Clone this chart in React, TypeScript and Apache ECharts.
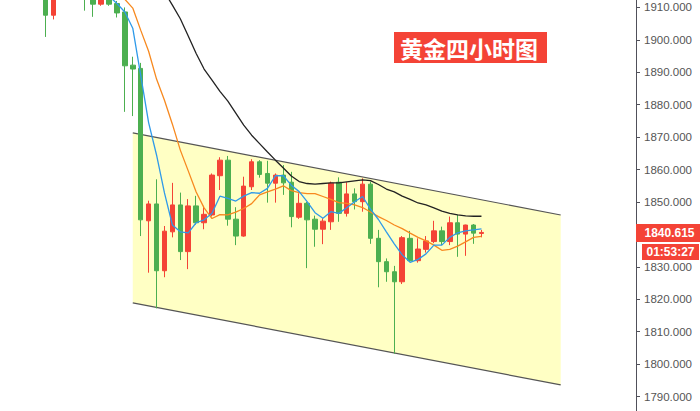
import React, { useEffect, useRef } from "react";
import * as echarts from "echarts";

// 80 category slots on the x axis (the candles occupy slots 5..60, the rest is empty space)
const categories: string[] = [
  "1","2","3","4","5","6","7","8","9","10","11","12","13","14","15","16","17","18","19","20",
  "21","22","23","24","25","26","27","28","29","30","31","32","33","34","35","36","37","38","39","40",
  "41","42","43","44","45","46","47","48","49","50","51","52","53","54","55","56","57","58","59","60",
  "61","62","63","64","65","66","67","68","69","70","71","72","73","74","75","76","77","78","79","80",
];
const firstCandle = 5;

// OHLC (4-hour gold candles)
const opens = [
  1916, 1907.6, 1916, 1919, 1917, 1918, 1914, 1911.0, 1913.5, 1911.2,
  1908.6, 1892.2, 1891.2, 1844.2, 1849.4, 1828.8, 1840.8, 1849.1, 1834.7, 1848.8,
  1843.6, 1846.0, 1858.1, 1862.9, 1844.7, 1839.5, 1854.7, 1862.4, 1858.8, 1855.8,
  1858.3, 1856.1, 1845.3, 1849.6, 1844.7, 1841.6, 1843.9, 1856.1, 1846.5, 1852.5,
  1850.1, 1855.5, 1838.8, 1831.6, 1828.5, 1825.4, 1838.8, 1831.9, 1835.4, 1837.8,
  1841.1, 1837.8, 1843.6, 1840.1, 1842.9, 1840.3,
];
const closes = [
  1907.6, 1915, 1919, 1917, 1915, 1914, 1911.0, 1913.5, 1911.0, 1908.3,
  1892.0, 1891.0, 1844.5, 1849.4, 1828.8, 1841.0, 1849.1, 1834.7, 1848.8, 1843.6,
  1846.2, 1858.3, 1862.9, 1844.7, 1839.5, 1854.9, 1862.4, 1858.5, 1855.8, 1858.3,
  1855.9, 1845.5, 1849.6, 1844.5, 1841.6, 1844.1, 1855.8, 1846.5, 1852.5, 1850.1,
  1855.5, 1838.8, 1831.6, 1828.5, 1825.4, 1839.0, 1831.9, 1835.5, 1838.0, 1841.1,
  1837.8, 1843.6, 1840.1, 1842.9, 1840.4, 1840.615,
];
const lows = [
  1900.9, 1906.3, 1914, 1914, 1913, 1909, 1907.1, 1910.5, 1910.5, 1906.9,
  1877.8, 1876.5, 1839.5, 1828.2, 1817.2, 1826.8, 1839.1, 1832.1, 1829.3, 1843.0,
  1841.6, 1845.5, 1853.7, 1842.7, 1836.7, 1839.3, 1853.7, 1857.5, 1849.8, 1849.8,
  1852.2, 1842.2, 1844.8, 1829.6, 1836.2, 1837.0, 1841.4, 1843.9, 1845.5, 1847.7,
  1847.0, 1837.1, 1823.7, 1825.4, 1803.2, 1824.7, 1831.5, 1831.3, 1834.4, 1837.3,
  1836.7, 1836.7, 1833.1, 1833.4, 1837.1, 1839.1,
];
const highs = [
  1918, 1917, 1921, 1922, 1919, 1919, 1915, 1914.5, 1914, 1912.0,
  1910.0, 1894.8, 1892.9, 1850.4, 1857.0, 1842.6, 1855.9, 1852.9, 1850.9, 1851.9,
  1848.8, 1858.8, 1863.8, 1864.2, 1848.4, 1857.8, 1863.2, 1862.9, 1862.7, 1858.8,
  1861.4, 1859.3, 1852.7, 1850.0, 1845.8, 1845.0, 1856.3, 1857.6, 1856.1, 1854.2,
  1857.3, 1856.3, 1841.4, 1832.6, 1830.3, 1839.5, 1841.1, 1838.8, 1839.5, 1844.2,
  1842.4, 1845.5, 1846.0, 1843.0, 1843.2, 1841.4,
];

// moving-average lines (aligned with the candles)
const maFast = [
  null, null, null, null, null, null, null, null, 1913.5, 1911.2,
  1908.6, 1903.6, 1889.1, 1874.5, 1864.5, 1852.8, 1842.9, 1840.8, 1840.5, 1843.6,
  1844.5, 1846.5, 1851.8, 1851.1, 1850.3, 1851.8, 1852.9, 1852.7, 1854.2, 1858.1,
  1858.1, 1855.2, 1853.2, 1850.1, 1846.7, 1845.0, 1847.0, 1846.5, 1848.2, 1850.1,
  1851.7, 1847.8, 1844.6, 1840.8, 1837.1, 1833.7, 1831.4, 1832.3, 1834.0, 1836.7,
  1836.7, 1839.1, 1840.5, 1841.1, 1841.4, 1841.7,
];
const maMid = [
  null, null, null, null, null, null, null, null, null, 1915.5,
  1912.5, 1909.8, 1903.0, 1896.5, 1887.9, 1881.4, 1874.0, 1866.0, 1859.6, 1853.1,
  1848.2, 1844.9, 1846.1, 1846.0, 1846.9, 1848.0, 1849.5, 1852.2, 1853.1, 1854.0,
  1855.0, 1853.5, 1852.9, 1852.6, 1852.6, 1851.7, 1850.8, 1849.8, 1849.6, 1849.1,
  1848.3, 1846.9, 1845.5, 1844.3, 1842.9, 1841.8, 1840.4, 1839.1, 1838.0, 1836.7,
  1835.1, 1835.4, 1836.4, 1837.7, 1839.1, 1839.4,
];
const maSlow = [
  null, null, null, null, null, null, null, null, null, null,
  null, null, null, null, 1919.0, 1914.8, 1910.7, 1906.5, 1901.2, 1895.8,
  1891.0, 1887.6, 1884.1, 1881.1, 1877.4, 1873.7, 1870.6, 1868.0, 1865.4, 1862.9,
  1860.5, 1858.0, 1856.3, 1855.7, 1855.5, 1855.7, 1855.9, 1855.9, 1856.2, 1856.5,
  1856.8, 1856.6, 1855.4, 1854.0, 1853.1, 1851.8, 1850.8, 1849.7, 1849.1, 1848.2,
  1847.2, 1846.5, 1846.0, 1845.7, 1845.6, 1845.6,
];

// descending channel drawn on the chart (category slot, price)
const channelX = [16, 70];
const channelTop = [1871.3, 1846.0];
const channelBottom = [1818.9, 1793.6];

const yMin = 1780;
const yMax = 1920;
const yStep = 10;
// price range that the window actually shows
const visibleMin = 1785.6;
const visibleMax = 1912.2;

const titleText = "黄金四小时图";
const countdownText = "01:53:27";

const RED = "#f44336";
const GREEN = "#4caf50";

// the chart canvas is taller than the window; the window shows 1785.6 .. 1912.2
const OFFSET_TOP = 25;
const CHART_H = 454;

export default function App() {
  const ref = useRef<HTMLDivElement>(null);

  useEffect(() => {
    const chart = echarts.init(ref.current!, null, { renderer: "svg" });
    const lastPrice = closes[closes.length - 1];

    const slot = (arr: (number | null)[], i: number) => {
      const k = i - firstCandle;
      if (k < 0 || k >= arr.length) return "-";
      const v = arr[k];
      return v == null ? "-" : v;
    };
    const candleData = categories.map((_, i) => {
      const k = i - firstCandle;
      if (k < 0 || k >= opens.length) return "-";
      return [opens[k], closes[k], lows[k], highs[k]];
    });
    const lineData = (arr: (number | null)[]) => categories.map((_, i) => slot(arr, i));

    chart.setOption({
      animation: false,
      backgroundColor: "#ffffff",
      grid: {
        left: 2,
        right: 64,
        top: 0,
        bottom: 0,
        containLabel: false,
        outerBoundsMode: "none",
      },
      xAxis: {
        type: "category",
        data: categories,
        boundaryGap: true,
        axisLine: { show: false },
        axisTick: { show: false },
        axisLabel: { show: false },
        splitLine: { show: false },
      },
      yAxis: {
        type: "value",
        position: "right",
        min: yMin,
        max: yMax,
        interval: yStep,
        axisLine: { show: true, lineStyle: { color: "#50505a", width: 1 } },
        axisTick: { show: true, length: 4, lineStyle: { color: "#50505a" } },
        axisLabel: {
          show: true,
          margin: 8,
          color: "#555",
          fontSize: 11.5,
          fontFamily: "Liberation Sans, Arial, sans-serif",
          // labels outside the window or under the price tag are not shown
          formatter: (v: number) =>
            v < visibleMin || v > visibleMax || Math.abs(v - lastPrice) < 3 ? "" : v.toFixed(3),
        },
        splitLine: { show: false },
      },
      series: [
        {
          type: "custom",
          z: 1,
          silent: true,
          data: [[channelX[0], channelTop[0]]],
          renderItem: (_params: any, api: any) => {
            const tl = api.coord([channelX[0], channelTop[0]]);
            const tr = api.coord([channelX[1], channelTop[1]]);
            const br = api.coord([channelX[1], channelBottom[1]]);
            const bl = api.coord([channelX[0], channelBottom[0]]);
            return {
              type: "group",
              children: [
                {
                  type: "polygon",
                  shape: { points: [tl, tr, br, bl] },
                  style: { fill: "#ffffc4", stroke: null },
                },
                {
                  type: "line",
                  shape: { x1: tl[0], y1: tl[1], x2: tr[0], y2: tr[1] },
                  style: { stroke: "#555", lineWidth: 1.2 },
                },
                {
                  type: "line",
                  shape: { x1: bl[0], y1: bl[1], x2: br[0], y2: br[1] },
                  style: { stroke: "#555", lineWidth: 1.2 },
                },
              ],
            };
          },
        },
        {
          type: "candlestick",
          z: 2,
          data: candleData,
          barWidth: 5,
          itemStyle: {
            color: RED,
            color0: GREEN,
            borderColor: RED,
            borderColor0: GREEN,
            borderWidth: 1,
          },
        },
        {
          type: "line",
          z: 3,
          data: lineData(maSlow),
          showSymbol: false,
          symbol: "none",
          lineStyle: { color: "#222", width: 1.3 },
        },
        {
          type: "line",
          z: 3,
          data: lineData(maMid),
          showSymbol: false,
          symbol: "none",
          lineStyle: { color: "#f7891f", width: 1.3 },
        },
        {
          type: "line",
          z: 3,
          data: lineData(maFast),
          showSymbol: false,
          symbol: "none",
          lineStyle: { color: "#2f9ae9", width: 1.3 },
        },
      ],
    });

    const py = chart.convertToPixel({ yAxisIndex: 0 }, lastPrice) as number;
    const ty = 32 + OFFSET_TOP; // title box top in chart pixels

    chart.setOption({
      graphic: [
        {
          type: "rect",
          id: "titleBox",
          shape: { x: 394, y: ty, width: 153, height: 31 },
          style: { fill: RED },
          z: 10,
        },
        {
          type: "text",
          id: "titleText",
          x: 469,
          y: ty + 15.5,
          z: 11,
          style: {
            text: titleText,
            fill: "#fff",
            font: 'bold 23px "Noto Sans CJK SC", sans-serif',
            textAlign: "center",
            textVerticalAlign: "middle",
          },
        },
        {
          type: "rect",
          id: "priceBox",
          shape: { x: 636, y: py - 8.5, width: 64, height: 18 },
          style: { fill: RED },
          z: 10,
        },
        {
          type: "text",
          id: "priceText",
          x: 669.5,
          y: py + 0.5,
          z: 11,
          style: {
            text: lastPrice.toFixed(3),
            fill: "#fff",
            font: 'bold 12px "Liberation Sans", Arial, sans-serif',
            textAlign: "center",
            textVerticalAlign: "middle",
          },
        },
        {
          type: "rect",
          id: "timerBox",
          shape: { x: 642, y: py + 11.5, width: 57, height: 16 },
          style: { fill: RED },
          z: 10,
        },
        {
          type: "text",
          id: "timerText",
          x: 670.5,
          y: py + 19.5,
          z: 11,
          style: {
            text: countdownText,
            fill: "#fff",
            font: 'bold 12px "Liberation Sans", Arial, sans-serif',
            textAlign: "center",
            textVerticalAlign: "middle",
          },
        },
      ],
    });

    return () => chart.dispose();
  }, []);

  return (
    <div
      style={{
        position: "fixed",
        left: 0,
        top: 0,
        width: 700,
        height: 411,
        overflow: "hidden",
        background: "#fff",
      }}
    >
      <div
        ref={ref}
        style={{ position: "absolute", left: 0, top: -OFFSET_TOP, width: 700, height: CHART_H }}
      />
    </div>
  );
}
